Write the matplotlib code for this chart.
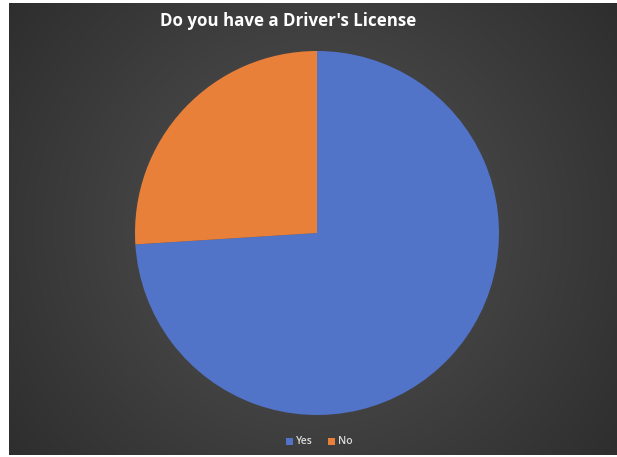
import numpy as np
import matplotlib
matplotlib.use("Agg")
import matplotlib.pyplot as plt
from matplotlib.patches import Rectangle

categories = ["Yes", "No"]
shares = [74, 26]
colors = ["#5173c8", "#e9803a"]
title = "Do you have a Driver's License"

W, H = 617, 457
fig = plt.figure(figsize=(W / 100, H / 100), dpi=100)
fig.patch.set_facecolor("white")

# dark radial-gradient chart area
bg = fig.add_axes([9 / W, 2 / H, (W - 9) / W, (H - 5) / H])
bg.set_axis_off()
yy, xx = np.mgrid[-1:1:300j, -1:1:400j]
r = np.sqrt(xx ** 2 + (yy * 0.75) ** 2)
shade = 0.33 - 0.15 * np.clip(r / 1.25, 0, 1)
bg.imshow(np.dstack([shade] * 3), aspect="auto", extent=[0, 1, 0, 1],
          interpolation="bicubic")
bg.set_xlim(0, 1)
bg.set_ylim(0, 1)

# pie
cx, cy, rad = 317, 233, 182
ax = fig.add_axes([(cx - rad) / W, (H - cy - rad) / H, 2 * rad / W, 2 * rad / H])
ax.pie(shares, colors=colors, startangle=90, counterclock=False,
       wedgeprops=dict(linewidth=0))
ax.set_aspect("equal")
ax.set_xlim(-1, 1)
ax.set_ylim(-1, 1)

fig.text(288 / W, 1 - 21 / H, title, color="white", fontsize=12.2,
         fontweight="bold", ha="center", va="center", family="Open Sans")

# legend
leg_y = 1 - 441 / H
x0 = 286
for name, col in zip(categories, colors):
    fig.patches.append(Rectangle((x0 / W, leg_y - 3.5 / H), 7 / W, 7 / H,
                                 transform=fig.transFigure, facecolor=col,
                                 edgecolor="none"))
    fig.text((x0 + 10) / W, leg_y, name, color="#d9d9d9", fontsize=7.5,
             fontweight="semibold", ha="left", va="center", family="Open Sans")
    x0 += 42

fig.savefig("out.png", dpi=100, facecolor="white")
